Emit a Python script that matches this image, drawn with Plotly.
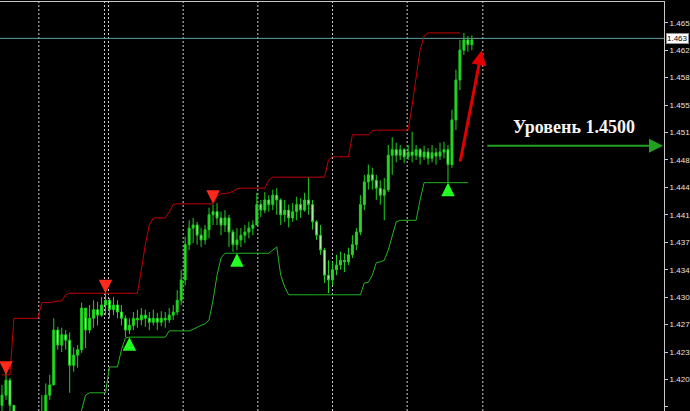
import plotly.graph_objects as go

# ---- price data (bar index = position on chart) ----
opens = [1.4162, 1.4175, 1.4194, 1.4162, 1.4137, 1.4128, 1.4123, 1.4131, 1.4120, 1.4125,
         1.4133, 1.4154, 1.4175, 1.4188, 1.4258, 1.4239, 1.4252, 1.4245, 1.4213, 1.4226,
         1.4233, 1.4286, 1.4258, 1.4273, 1.4284, 1.4277, 1.4290, 1.4296, 1.4284, 1.4290,
         1.4281, 1.4273, 1.4258, 1.4264, 1.4273, 1.4271, 1.4277, 1.4273, 1.4268, 1.4273,
         1.4268, 1.4273, 1.4271, 1.4277, 1.4281, 1.4296, 1.4322, 1.4367, 1.4388, 1.4392,
         1.4379, 1.4373, 1.4386, 1.4405, 1.4409, 1.4401, 1.4392, 1.4401, 1.4383, 1.4367,
         1.4373, 1.4379, 1.4383, 1.4388, 1.4392, 1.4418, 1.4411, 1.4424, 1.4418, 1.4430,
         1.4424, 1.4405, 1.4411, 1.4401, 1.4409, 1.4418, 1.4411, 1.4424, 1.4418, 1.4396,
         1.4379, 1.4360, 1.4328, 1.4322, 1.4335, 1.4341, 1.4347, 1.4345, 1.4354, 1.4367,
         1.4383, 1.4418, 1.4447, 1.4456, 1.4449, 1.4439, 1.4430, 1.4437, 1.4481, 1.4488,
         1.4481, 1.4488, 1.4479, 1.4485, 1.4481, 1.4488, 1.4479, 1.4485, 1.4477, 1.4484,
         1.4480, 1.4485, 1.4488, 1.4469, 1.4526, 1.4577, 1.4615, 1.4628, 1.4622]
highs = [1.4188, 1.4205, 1.4197, 1.4156, 1.4137, 1.4133, 1.4138, 1.4133, 1.4136, 1.4143,
         1.4175, 1.4190, 1.4201, 1.4273, 1.4262, 1.4261, 1.4258, 1.4255, 1.4236, 1.4239,
         1.4293, 1.4273, 1.4290, 1.4296, 1.4294, 1.4300, 1.4305, 1.4299, 1.4300, 1.4296,
         1.4290, 1.4277, 1.4273, 1.4281, 1.4284, 1.4286, 1.4284, 1.4281, 1.4284, 1.4280,
         1.4282, 1.4281, 1.4286, 1.4290, 1.4309, 1.4335, 1.4377, 1.4398, 1.4401, 1.4396,
         1.4388, 1.4392, 1.4414, 1.4418, 1.4420, 1.4409, 1.4411, 1.4405, 1.4386, 1.4388,
         1.4388, 1.4392, 1.4396, 1.4398, 1.4433, 1.4424, 1.4434, 1.4430, 1.4437, 1.4439,
         1.4426, 1.4424, 1.4418, 1.4420, 1.4428, 1.4426, 1.4433, 1.4453, 1.4424, 1.4398,
         1.4392, 1.4363, 1.4347, 1.4345, 1.4354, 1.4358, 1.4356, 1.4363, 1.4379, 1.4388,
         1.4430, 1.4456, 1.4469, 1.4465, 1.4456, 1.4449, 1.4452, 1.4494, 1.4504, 1.4497,
         1.4494, 1.4490, 1.4494, 1.4511, 1.4494, 1.4490, 1.4493, 1.4490, 1.4494, 1.4490,
         1.4497, 1.4498, 1.4494, 1.4539, 1.4590, 1.4628, 1.4637, 1.4633, 1.4634]
lows = [1.4150, 1.4169, 1.4143, 1.4124, 1.4118, 1.4111, 1.4118, 1.4107, 1.4115, 1.4118,
        1.4131, 1.4150, 1.4169, 1.4192, 1.4233, 1.4230, 1.4233, 1.4178, 1.4205, 1.4210,
        1.4229, 1.4235, 1.4254, 1.4261, 1.4264, 1.4275, 1.4277, 1.4273, 1.4277, 1.4273,
        1.4264, 1.4249, 1.4253, 1.4258, 1.4261, 1.4264, 1.4262, 1.4258, 1.4264, 1.4258,
        1.4263, 1.4261, 1.4267, 1.4271, 1.4277, 1.4290, 1.4315, 1.4360, 1.4369, 1.4367,
        1.4364, 1.4367, 1.4375, 1.4392, 1.4392, 1.4379, 1.4383, 1.4364, 1.4358, 1.4360,
        1.4364, 1.4369, 1.4375, 1.4379, 1.4396, 1.4402, 1.4407, 1.4409, 1.4411, 1.4405,
        1.4392, 1.4396, 1.4389, 1.4396, 1.4398, 1.4401, 1.4409, 1.4405, 1.4386, 1.4373,
        1.4354, 1.4318, 1.4305, 1.4315, 1.4328, 1.4335, 1.4332, 1.4341, 1.4350, 1.4360,
        1.4379, 1.4411, 1.4437, 1.4437, 1.4424, 1.4418, 1.4398, 1.4434, 1.4456, 1.4472,
        1.4475, 1.4471, 1.4475, 1.4472, 1.4475, 1.4469, 1.4475, 1.4469, 1.4472, 1.4469,
        1.4475, 1.4477, 1.4446, 1.4465, 1.4513, 1.4564, 1.4609, 1.4613, 1.4615]
closes = [1.4175, 1.4194, 1.4162, 1.4137, 1.4128, 1.4123, 1.4131, 1.4120, 1.4125, 1.4133,
          1.4154, 1.4175, 1.4188, 1.4258, 1.4239, 1.4252, 1.4245, 1.4213, 1.4226, 1.4233,
          1.4286, 1.4258, 1.4273, 1.4284, 1.4277, 1.4290, 1.4296, 1.4284, 1.4290, 1.4281,
          1.4273, 1.4258, 1.4264, 1.4273, 1.4271, 1.4277, 1.4273, 1.4268, 1.4273, 1.4268,
          1.4273, 1.4271, 1.4277, 1.4281, 1.4296, 1.4322, 1.4367, 1.4388, 1.4392, 1.4379,
          1.4373, 1.4386, 1.4405, 1.4409, 1.4401, 1.4392, 1.4401, 1.4383, 1.4367, 1.4373,
          1.4379, 1.4383, 1.4388, 1.4392, 1.4418, 1.4411, 1.4424, 1.4418, 1.4430, 1.4424,
          1.4405, 1.4411, 1.4401, 1.4409, 1.4418, 1.4411, 1.4424, 1.4418, 1.4396, 1.4379,
          1.4360, 1.4328, 1.4322, 1.4335, 1.4341, 1.4347, 1.4345, 1.4354, 1.4367, 1.4383,
          1.4418, 1.4447, 1.4456, 1.4449, 1.4439, 1.4430, 1.4437, 1.4481, 1.4488, 1.4481,
          1.4488, 1.4479, 1.4485, 1.4481, 1.4488, 1.4479, 1.4485, 1.4477, 1.4484, 1.4480,
          1.4485, 1.4488, 1.4469, 1.4526, 1.4577, 1.4615, 1.4628, 1.4622, 1.4628]

# upper (red) channel line
upper = [1.4201, 1.4201, 1.4201, 1.4273, 1.4273, 1.4273, 1.4273, 1.4273, 1.4273, 1.4273,
         1.4293, 1.4293, 1.4293, 1.4294, 1.4295, 1.4295, 1.4303, 1.4305, 1.4305, 1.4305,
         1.4305, 1.4305, 1.4305, 1.4305, 1.4305, 1.4305, 1.4305, 1.4305, 1.4305, 1.4305,
         1.4305, 1.4305, 1.4305, 1.4305, 1.4305, 1.4335, 1.4367, 1.4392, 1.4401, 1.4401,
         1.4401, 1.4401, 1.4409, 1.4418, 1.4419, 1.4419, 1.4419, 1.4419, 1.4419, 1.4419,
         1.4419, 1.4419, 1.4419, 1.4419, 1.4429, 1.4432, 1.4432, 1.4433, 1.4435, 1.4438,
         1.4439, 1.4439, 1.4439, 1.4439, 1.4439, 1.4439, 1.4439, 1.4449, 1.4453, 1.4453,
         1.4453, 1.4453, 1.4453, 1.4453, 1.4453, 1.4453, 1.4453, 1.4453, 1.4453, 1.4453,
         1.4453, 1.4453, 1.4475, 1.4479, 1.4479, 1.4479, 1.4479, 1.4479, 1.4507, 1.4507,
         1.4507, 1.4507, 1.4507, 1.4512, 1.4513, 1.4513, 1.4513, 1.4513, 1.4513, 1.4513,
         1.4513, 1.4513, 1.4513, 1.4545, 1.4583, 1.4615, 1.4633, 1.4637, 1.4637, 1.4637,
         1.4637, 1.4637, 1.4637, 1.4637, 1.4637, 1.4637]

# lower (green) channel line
lower = [1.4120, 1.4120, 1.4120, 1.4120, 1.4120, 1.4120, 1.4120, 1.4120, 1.4120, 1.4120,
         1.4120, 1.4120, 1.4120, 1.4120, 1.4120, 1.4120, 1.4120, 1.4120, 1.4120, 1.4137,
         1.4156, 1.4175, 1.4178, 1.4178, 1.4178, 1.4178, 1.4178, 1.4211, 1.4211, 1.4211,
         1.4233, 1.4248, 1.4249, 1.4249, 1.4249, 1.4249, 1.4249, 1.4249, 1.4249, 1.4249,
         1.4249, 1.4249, 1.4257, 1.4257, 1.4257, 1.4257, 1.4257, 1.4257, 1.4259, 1.4262,
         1.4264, 1.4266, 1.4271, 1.4296, 1.4328, 1.4350, 1.4356, 1.4356, 1.4356, 1.4356,
         1.4356, 1.4356, 1.4356, 1.4356, 1.4356, 1.4356, 1.4356, 1.4356, 1.4360, 1.4364,
         1.4328, 1.4313, 1.4303, 1.4303, 1.4303, 1.4303, 1.4303, 1.4303, 1.4303, 1.4303,
         1.4303, 1.4303, 1.4303, 1.4303, 1.4303, 1.4303, 1.4303, 1.4303, 1.4303, 1.4303,
         1.4303, 1.4318, 1.4319, 1.4328, 1.4344, 1.4345, 1.4347, 1.4360, 1.4379, 1.4396,
         1.4398, 1.4398, 1.4398, 1.4398, 1.4398, 1.4424, 1.4446, 1.4446, 1.4446, 1.4446,
         1.4446, 1.4446, 1.4446, 1.4446, 1.4446, 1.4446, 1.4446, 1.4446]

# signals
sell_bars = [1, 26, 53]
sell_prices = [1.4201, 1.4305, 1.4419]
buy_bars = [32, 59, 112]
buy_prices = [1.4249, 1.4356, 1.4446]

# period separators (bar positions)
separators = [9.25, 25.75, 26.75, 45.5, 64.25, 83.0, 101.75, 120.75]

# price axis
tick_values = [1.4650, 1.4615, 1.4580, 1.4545, 1.4510, 1.4475, 1.4440, 1.4405,
               1.4370, 1.4335, 1.4300, 1.4265, 1.4230, 1.4195, 1.4160]
tick_labels = ["1.465", "1.462", "1.458", "1.455", "1.451", "1.448", "1.444", "1.441",
               "1.437", "1.434", "1.430", "1.427", "1.423", "1.420", "1.416"]
current_price = 1.4630
current_label = "1.463"

# drawn objects
level_text = "Уровень 1.4500"
level_price = 1.4493
level_text_price = 1.4517
level_bars = [121.5, 166.0]
trend_arrow_bars = [115.0, 120.5]
trend_arrow_prices = [1.4471, 1.4615]

bars = list(range(len(closes)))

fig = go.Figure()

fig.add_trace(go.Candlestick(
    x=bars, open=opens, high=highs, low=lows, close=closes,
    increasing=dict(line=dict(color="#1ed21e", width=1), fillcolor="#2bd82b"),
    decreasing=dict(line=dict(color="#1ed21e", width=1), fillcolor="#b4f5a8"),
    whiskerwidth=0, hoverinfo="skip"))

fig.add_trace(go.Scatter(x=list(range(len(upper))), y=upper, mode="lines",
                         line=dict(color="#c00000", width=1), hoverinfo="skip"))
fig.add_trace(go.Scatter(x=list(range(len(lower))), y=lower, mode="lines",
                         line=dict(color="#22b422", width=1), hoverinfo="skip"))

annotations = []
for b, p in zip(sell_bars, sell_prices):
    annotations.append(dict(x=b, y=p, xref="x", yref="y", ax=0, ay=-14, text="",
                            showarrow=True, arrowhead=2, arrowsize=0.9, arrowwidth=3,
                            arrowcolor="#ff2a1a", standoff=0))
for b, p in zip(buy_bars, buy_prices):
    annotations.append(dict(x=b, y=p, xref="x", yref="y", ax=0, ay=14, text="",
                            showarrow=True, arrowhead=2, arrowsize=0.9, arrowwidth=3,
                            arrowcolor="#22ff22", standoff=0))

# red trend arrow
annotations.append(dict(x=trend_arrow_bars[1], y=trend_arrow_prices[1],
                        ax=trend_arrow_bars[0], ay=trend_arrow_prices[0],
                        xref="x", yref="y", axref="x", ayref="y", text="",
                        showarrow=True, arrowhead=2, arrowsize=1.0, arrowwidth=3,
                        arrowcolor="#e00000", standoff=0))
# green level arrow
annotations.append(dict(x=level_bars[1], y=level_price, ax=level_bars[0], ay=level_price,
                        xref="x", yref="y", axref="x", ayref="y", text="",
                        showarrow=True, arrowhead=2, arrowsize=1.4, arrowwidth=2,
                        arrowcolor="#22a022", standoff=0))
# level text
annotations.append(dict(x=(level_bars[0] + level_bars[1]) / 2, y=level_text_price,
                        xref="x", yref="y", text="<b>" + level_text + "</b>", showarrow=False,
                        font=dict(family="Liberation Serif", size=18, color="#f4f4f4")))
# current price label
annotations.append(dict(x=1, y=current_price, xref="paper", yref="y", xanchor="left",
                        xshift=2, text=current_label, showarrow=False,
                        font=dict(family="Liberation Sans", size=8, color="#000000"),
                        bgcolor="#ffffff", bordercolor="#909090", borderwidth=1, borderpad=0))

shapes = []
for s in separators:
    shapes.append(dict(type="line", xref="x", yref="paper", x0=s, x1=s, y0=0, y1=1,
                       line=dict(color="#d0d0d0", width=1, dash="2px,2px"), layer="below"))
shapes.append(dict(type="line", xref="paper", yref="y", x0=0, x1=1,
                   y0=current_price, y1=current_price,
                   line=dict(color="#5f9ea0", width=1), layer="below"))

fig.update_layout(
    width=690, height=411,
    margin=dict(l=0, r=23, t=2, b=0),
    paper_bgcolor="#000000", plot_bgcolor="#000000",
    showlegend=False,
    annotations=annotations, shapes=shapes,
    xaxis=dict(range=[-0.5, 166.25], showgrid=False, zeroline=False, showticklabels=False,
               ticks="", side="top", showline=True, linecolor="#c8c8c8", linewidth=1,
               rangeslider=dict(visible=False), fixedrange=True),
    yaxis=dict(range=[1.41548, 1.46764], side="right", showgrid=False, zeroline=False,
               tickvals=tick_values, ticktext=tick_labels, ticks="outside", ticklen=3,
               tickcolor="#c8c8c8", showline=True, linecolor="#c8c8c8", linewidth=1,
               tickfont=dict(family="Liberation Sans", size=8, color="#e4e4e4"),
               fixedrange=True),
)

fig.write_html("out.html", config={"displayModeBar": False},
               post_script="document.body.style.margin='0';document.body.style.overflow='hidden';")
